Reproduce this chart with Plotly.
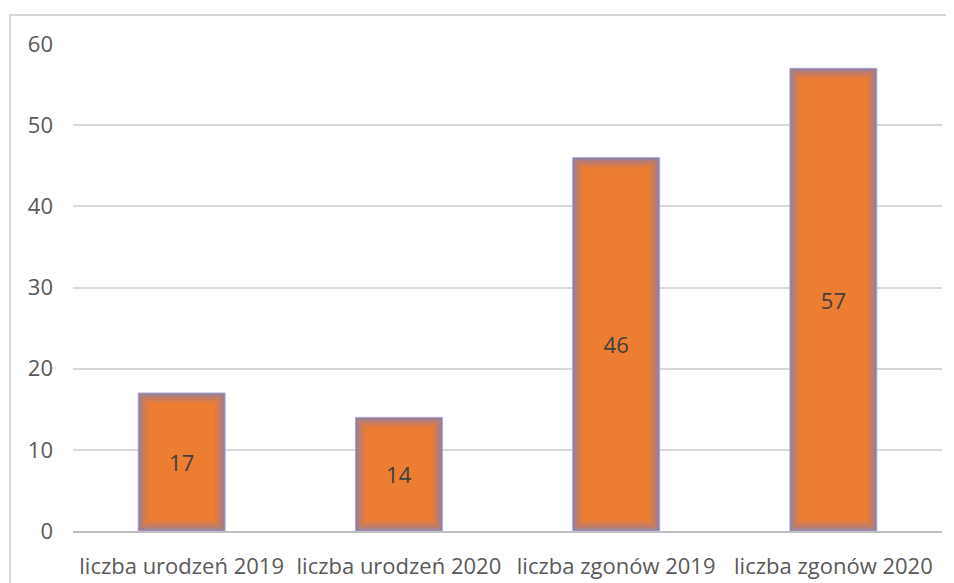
import plotly.graph_objects as go

categories = ["liczba urodzeń 2019", "liczba urodzeń 2020", "liczba zgonów 2019", "liczba zgonów 2020"]
values = [17, 14, 46, 57]
y_ticks = [0, 10, 20, 30, 40, 50, 60]

# page body has an 8px margin, so the figure is laid out 8px smaller
W, H = 946, 575
ml, mr, mt, mb = 65, 12, 36, 52
pw, ph = W - ml - mr, H - mt - mb
px_x = 4 / pw          # category units per pixel
px_y = 60 / ph         # value units per pixel

bar_w = 0.40
fill = (237, 125, 49)
edge = (128, 126, 182)

fig = go.Figure()
layers = 12
step = 1.0
for i in range(layers):
    t = i / (layers - 1)
    c = tuple(round(edge[k] + (fill[k] - edge[k]) * (t ** 0.55)) for k in range(3))
    inset = i * step
    fig.add_trace(go.Bar(
        x=categories,
        y=[max(v - 2 * inset * px_y, 0) for v in values],
        base=[inset * px_y] * len(values),
        width=bar_w - 2 * inset * px_x,
        marker=dict(color="rgb(%d,%d,%d)" % c, line=dict(width=0)),
        hoverinfo="skip",
        showlegend=False,
    ))

fig.add_trace(go.Bar(
    x=categories,
    y=values,
    width=bar_w,
    marker=dict(color="rgba(0,0,0,0)", line=dict(color="rgb(175,165,200)", width=1)),
    text=[str(v) for v in values],
    textposition="inside",
    insidetextanchor="middle",
    textangle=0,
    textfont=dict(family="Open Sans", size=22, color="#404040"),
    showlegend=False,
))

fig.update_layout(
    width=W, height=H,
    margin=dict(l=ml, r=mr, t=mt, b=mb, autoexpand=False),
    barmode="overlay",
    plot_bgcolor="white",
    paper_bgcolor="white",
    font=dict(family="Open Sans", size=22, color="#595959"),
    xaxis=dict(
        range=[-0.5, 3.5],
        automargin=False,
        showgrid=False,
        showline=True, linecolor="#BFBFBF", linewidth=2,
        ticks="", ticklabelstandoff=15,
        tickfont=dict(size=22, color="#595959"),
    ),
    yaxis=dict(
        range=[0, 60],
        automargin=False,
        tickvals=y_ticks,
        showgrid=True, gridcolor="#D9D9D9", gridwidth=1.5,
        zeroline=False, showline=False, ticks="",
        ticklabelstandoff=19,
        tickfont=dict(size=22, color="#595959"),
    ),
    shapes=[dict(
        type="rect", xref="paper", yref="paper",
        x0=(2 - ml) / pw, x1=(W + 20 - ml) / pw,
        y0=(mt + ph - H - 20) / ph, y1=(mt + ph - 7) / ph,
        line=dict(color="#D9D9D9", width=2), fillcolor="rgba(0,0,0,0)",
        layer="below",
    )],
)

fig.write_html("out.html")
